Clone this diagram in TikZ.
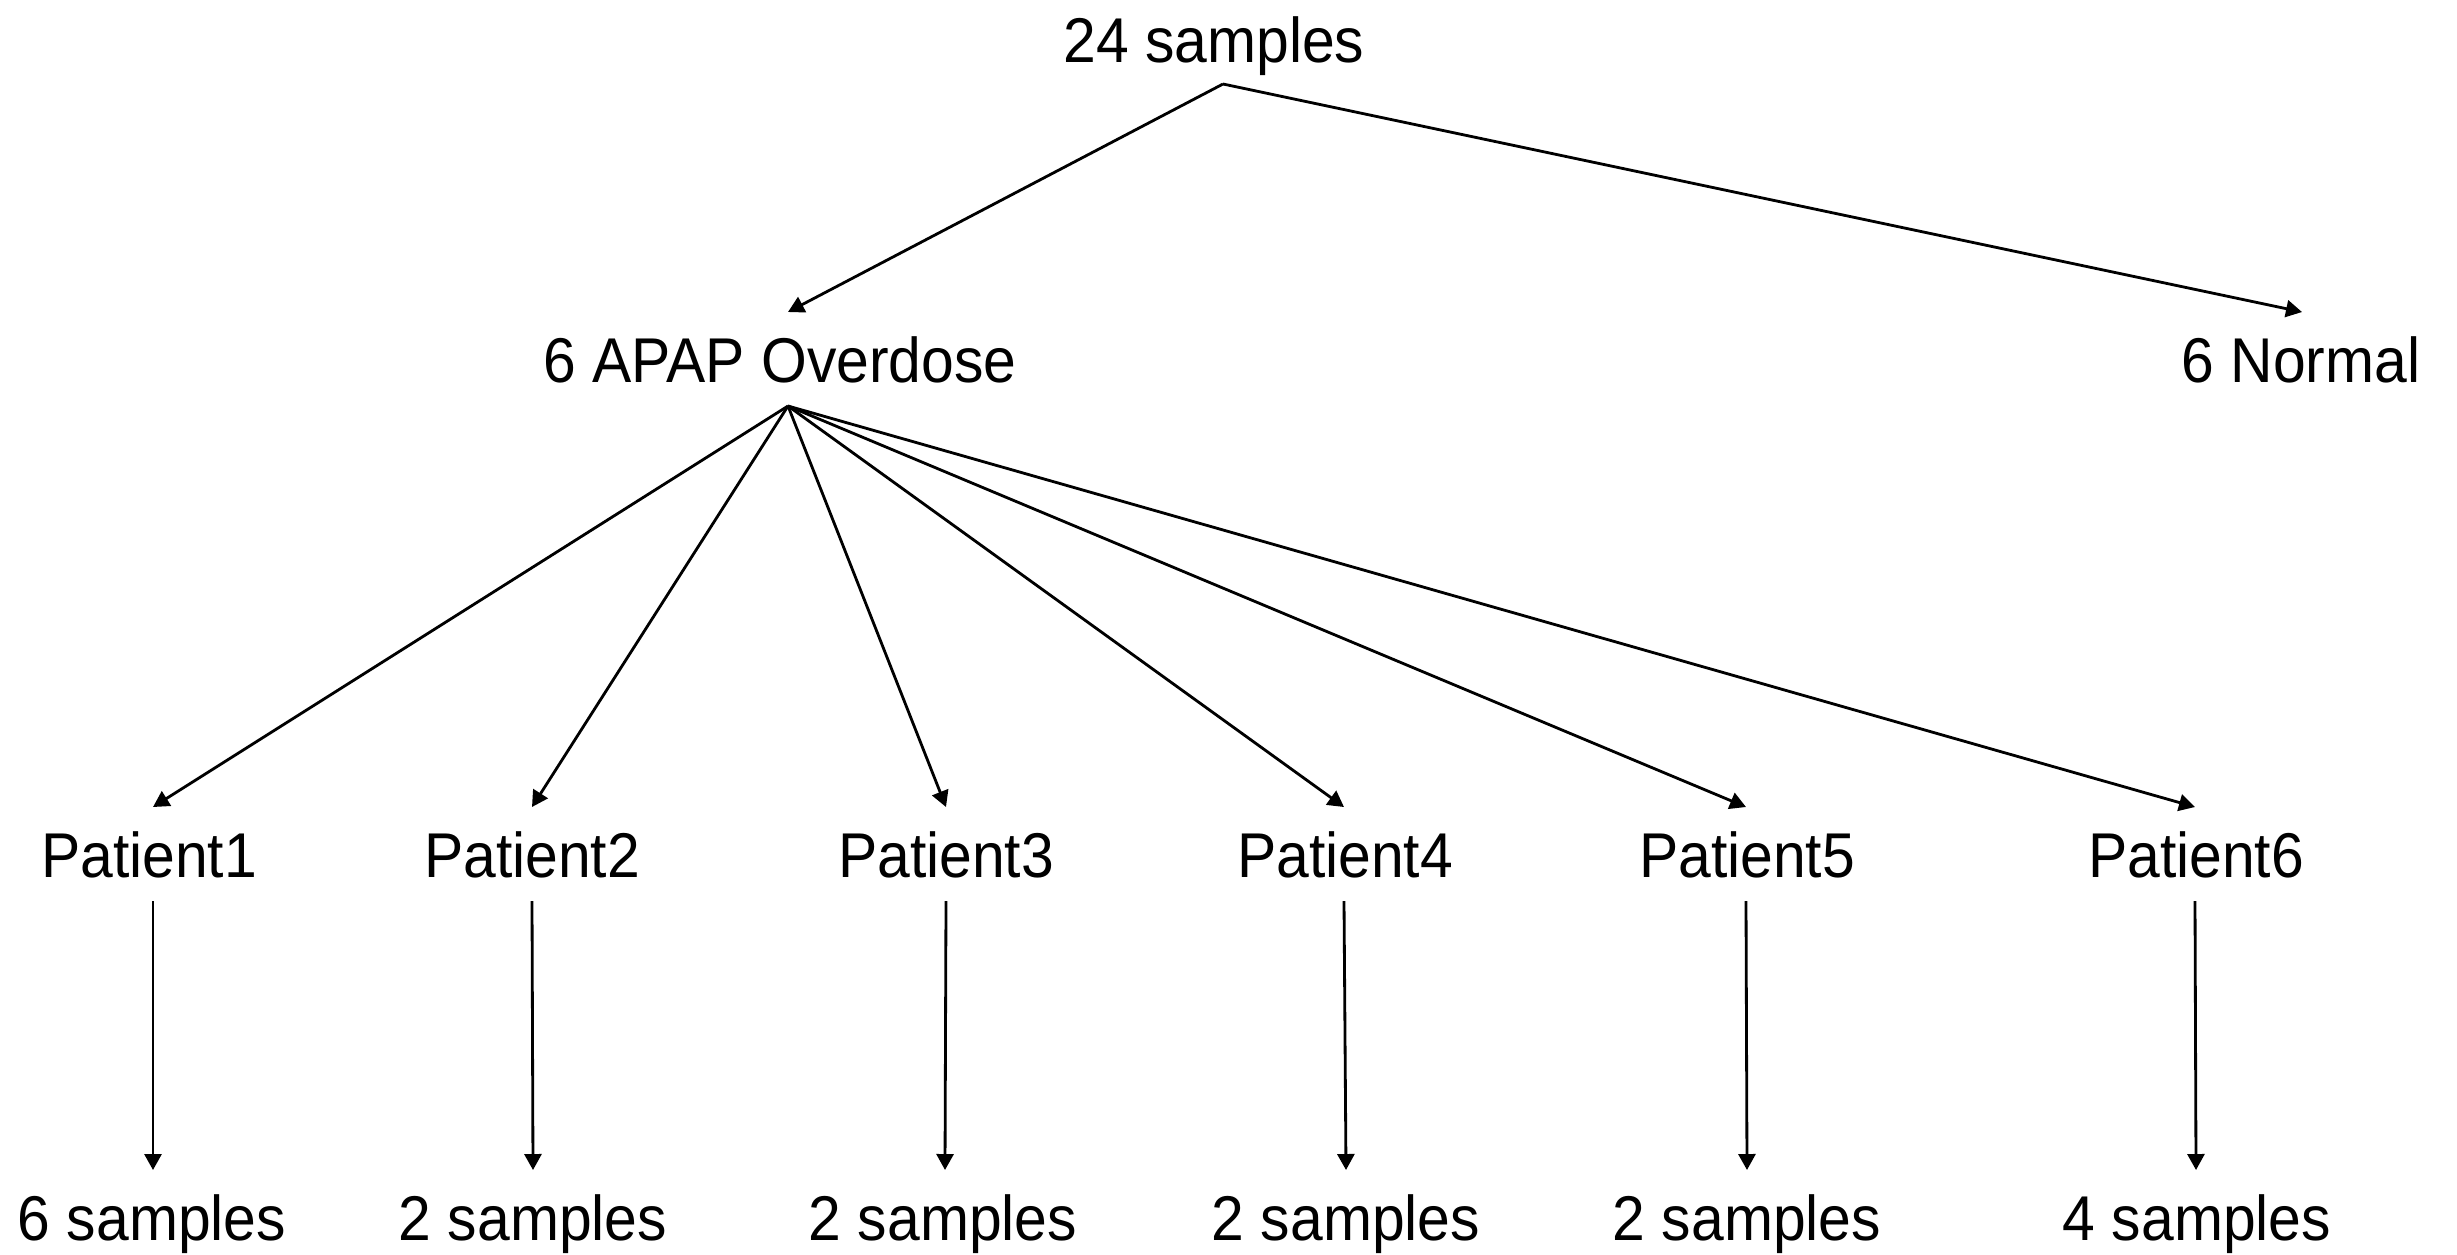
\documentclass[tikz,border=0pt]{standalone}
\usepackage{fontspec}
\setmainfont{Liberation Sans}[FakeStretch=0.93]
\usetikzlibrary{arrows.meta}
\begin{document}
\begin{tikzpicture}[x=0.1mm, y=-0.1mm,
  lbl/.style={anchor=base, inner sep=0pt, font=\fontsize{18}{21}\selectfont},
  link/.style={line width=0.8pt, -{Triangle[length=1.6mm, width=1.7mm]}}]
\useasboundingbox (0,0) rectangle (2457,1254);

% labels
\node[lbl] (all)    at (1214,62)  {24 samples};
\node[lbl] (apap)   at (780,382)  {6 APAP Overdose};
\node[lbl] (normal) at (2301,382) {6 Normal};
\foreach \i/\x in {1/149, 2/532, 3/946, 4/1345, 5/1747, 6/2196}
  \node[lbl] (p\i) at (\x,877) {Patient\i};
\foreach \i/\x/\n in {1/152/6, 2/533/2, 3/943/2, 4/1346/2, 5/1747/2, 6/2197/4}
  \node[lbl] (s\i) at (\x,1240) {\n\ samples};

% connection points
\coordinate (allout)  at (1223,84);
\coordinate (apapin)  at (788,312);
\coordinate (apapout) at (788,406);
\coordinate (normin)  at (2302,312);
\foreach \i/\x/\y in {1/153/153, 2/532/533, 3/946/945, 4/1344/1346, 5/1746/1747, 6/2195/2196} {
  \coordinate (p\i in)  at (\x,807);
  \coordinate (p\i out) at (\x,901);
  \coordinate (s\i in)  at (\y,1170);
}

% connectors
\draw[link] (allout) -- (apapin);
\draw[link] (allout) -- (normin);
\foreach \i in {1,...,6} {
  \draw[link] (apapout) -- (p\i in);
  \draw[link] (p\i out) -- (s\i in);
}
\end{tikzpicture}
\end{document}
